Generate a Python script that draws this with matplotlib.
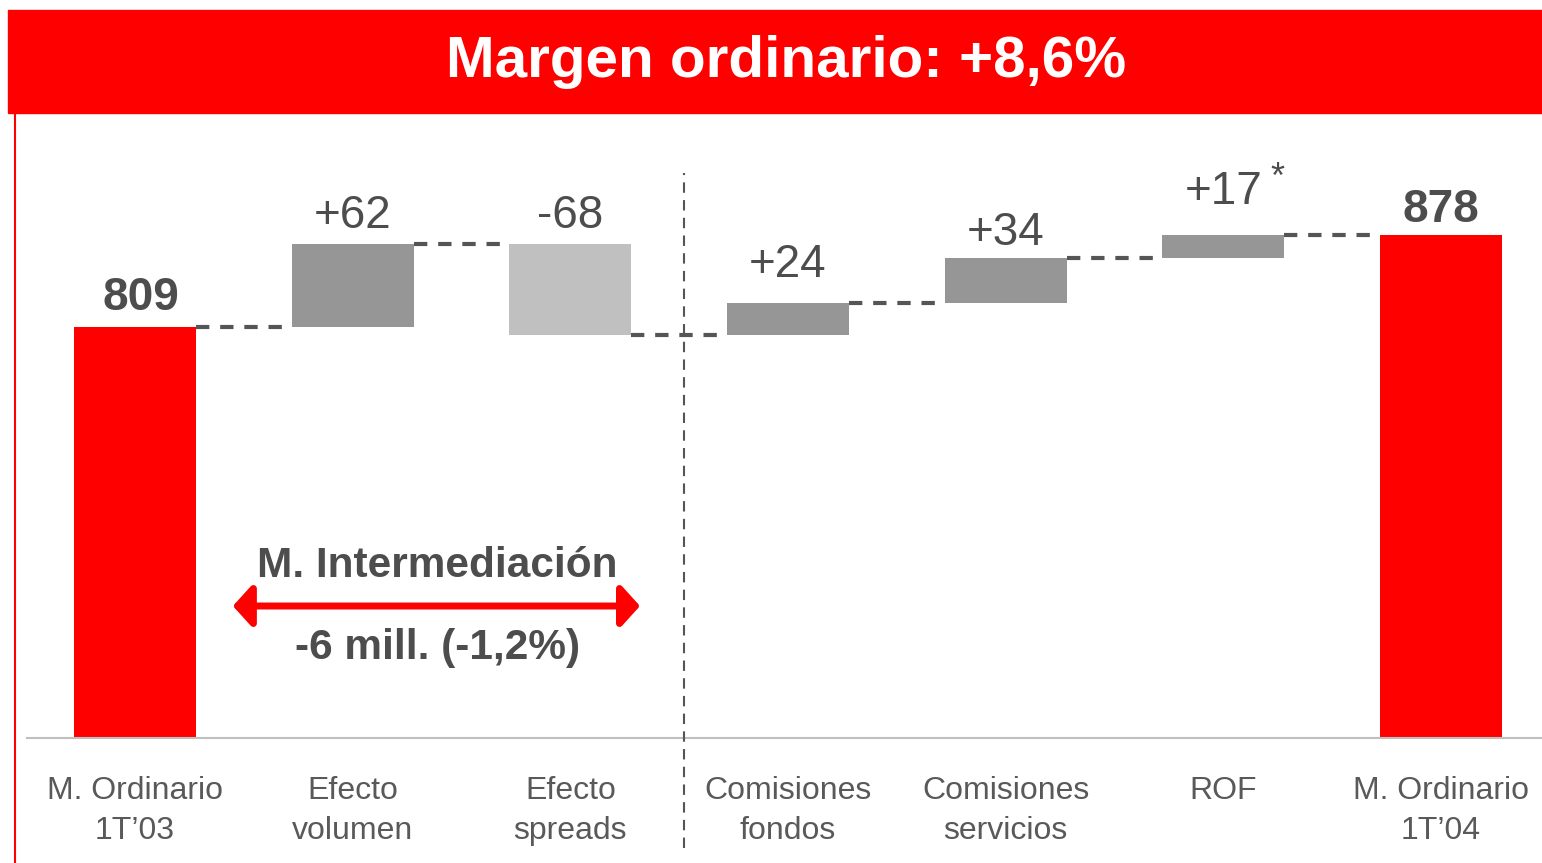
import matplotlib
matplotlib.use('Agg')
import matplotlib.pyplot as plt
from matplotlib.patches import Rectangle

plt.rcParams['font.family'] = ['Liberation Sans', 'DejaVu Sans']

# data
categories = ["M. Ordinario\n1T\u201903", "Efecto\nvolumen", "Efecto\nspreads",
              "Comisiones\nfondos", "Comisiones\nservicios", "ROF", "M. Ordinario\n1T\u201904"]
start_value = 809
changes = [62, -68, 24, 34, 17]
end_value = 878
value_labels = ["809", "+62", "-68", "+24", "+34", "+17", "878"]
title_text = "Margen ordinario: +8,6%"
bracket_title = "M. Intermediaci\u00f3n"
bracket_value = "-6 mill. (-1,2%)"

RED = '#FF0000'
GREY = '#969696'
LIGHT = '#C0C0C0'
DARK = '#555555'

# waterfall geometry from the data
bottoms, heights, colors = [], [], []
axis_base = 500.7
bottoms.append(axis_base)
heights.append(start_value - axis_base)
colors.append(RED)
level = start_value
levels = [start_value]
for c in changes:
    new = level + c
    bottoms.append(min(level, new))
    heights.append(abs(c))
    colors.append(GREY if c > 0 else LIGHT)
    level = new
    levels.append(level)
bottoms.append(axis_base)
heights.append(end_value - axis_base)
colors.append(RED)
tops = [b + h for b, h in zip(bottoms, heights)]

fig = plt.figure(figsize=(15.42, 8.63), dpi=100)
ax = fig.add_axes([27 / 1542, 1 - 738 / 863, 1 - 27 / 1542, (738 - 113) / 863])

x = list(range(len(categories)))
width = 0.56
ax.bar(x, heights, bottom=bottoms, width=width, color=colors, zorder=2)
ax.set_xlim(-0.4958, 6.4635)
ax.set_ylim(axis_base, 969.5)

# dashed connectors
for i in range(len(levels)):
    ax.plot([i + width / 2, i + 1 - width / 2], [levels[i], levels[i]],
            color=DARK, lw=3, dashes=(3.2, 2.6), zorder=1)

# value labels (pad in points above each bar top)
label_pad = [12, 12, 12, 19, 9, 22, 9]
for i, lab in enumerate(value_labels):
    bold = i in (0, len(value_labels) - 1)
    ax.annotate(lab, (x[i], tops[i]), xytext=(4 if i == 0 else 0, label_pad[i]),
                textcoords='offset points', ha='center', va='baseline',
                fontsize=33, color='#4d4d4d', fontweight='bold' if bold else 'normal')
ax.annotate('*', (x[5], tops[5]), xytext=(39, label_pad[5] + 12), textcoords='offset points',
            ha='center', va='baseline', fontsize=26, color='#4d4d4d')

# separator between net interest and fees
ax.axvline(2.52, ymin=-0.176, ymax=0.904, color=DARK, lw=1.5, dashes=(5, 3.5), clip_on=False, zorder=3)

# bracket for M. Intermediacion
ax.annotate('', xy=(0.45, 599.7), xytext=(2.32, 599.7),
            arrowprops=dict(arrowstyle='<|-|>,head_length=0.38,head_width=0.42', color=RED,
                            lw=5, shrinkA=0, shrinkB=0, mutation_scale=30))
ax.text(1.39, 629.7, bracket_title, ha='center', va='center', fontsize=30.5,
        fontweight='bold', color='#4d4d4d')
ax.text(1.39, 568.2, bracket_value, ha='center', va='center', fontsize=30.5,
        fontweight='bold', color='#4d4d4d')

ax.set_xticks(x)
ax.set_xticklabels(categories, fontsize=23, color='#595959', linespacing=1.45)
ax.tick_params(axis='x', length=0, pad=27)
ax.set_yticks([])
for s in ['top', 'right', 'left']:
    ax.spines[s].set_visible(False)
ax.spines['bottom'].set_color('#bfbfbf')
ax.spines['bottom'].set_linewidth(1.5)

# header band and left rule
fig.patches.append(Rectangle((8 / 1542, 1 - 113 / 863), 1 - 8 / 1542, 103 / 863,
                             transform=fig.transFigure, color=RED, zorder=0))
fig.lines.append(plt.Line2D([15 / 1542, 15 / 1542], [0, 1 - 113 / 863],
                            transform=fig.transFigure, color=RED, lw=1.5))
fig.text(786 / 1542, 1 - 62 / 863, title_text, ha='center', va='center',
         fontsize=42, fontweight='bold', color='white')

fig.savefig('out.png', dpi=100)
